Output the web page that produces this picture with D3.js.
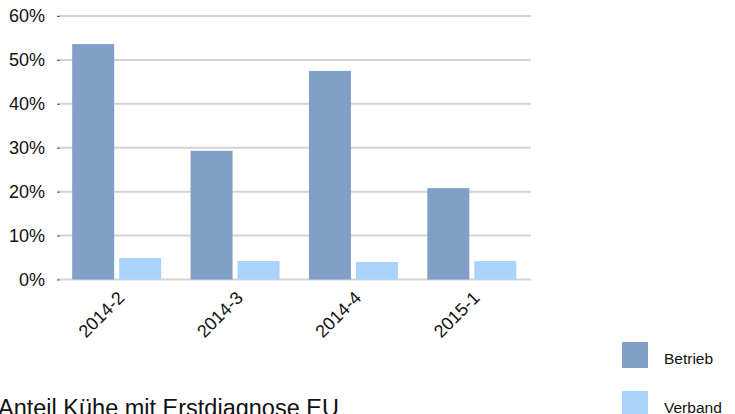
<!DOCTYPE html>
<html>
<head>
<meta charset="utf-8">
<script src="https://cdn.jsdelivr.net/npm/d3@7"></script>
<style>
  body { margin: 0; background: #fff; }
  svg { display: block; font-family: "Liberation Sans", Arial, sans-serif; }
</style>
</head>
<body>
<svg id="chart" width="735" height="414"></svg>
<script>
// Data
const categories = ["2014-2", "2014-3", "2014-4", "2015-1"];
const seriesNames = ["Betrieb", "Verband"];
const betrieb = [0.536, 0.293, 0.475, 0.208];
const verband = [0.049, 0.042, 0.040, 0.042];
const yTicks = [0, 0.1, 0.2, 0.3, 0.4, 0.5, 0.6];
const colors = ["#829fc8", "#aad3fc"];
const title = "Anteil Kühe mit Erstdiagnose EU";

const svg = d3.select("#chart");

// scales
const x0 = d3.scaleBand()
  .domain(categories)
  .range([57.5, 531])
  .paddingInner(0.248)
  .paddingOuter(0.124);

const x1 = d3.scaleBand()
  .domain(seriesNames)
  .range([0, x0.bandwidth()])
  .paddingInner(0.106);

const y = d3.scaleLinear()
  .domain([0, 0.6])
  .range([279.5, 16]);

const color = d3.scaleOrdinal().domain(seriesNames).range(colors);

// gridlines
svg.append("g")
  .selectAll("line")
  .data(yTicks)
  .enter().append("line")
  .attr("x1", 57)
  .attr("x2", 531)
  .attr("y1", d => y(d))
  .attr("y2", d => y(d))
  .attr("stroke", "#d3d3d3")
  .attr("stroke-width", 2);

// y axis
const yAxis = svg.append("g")
  .attr("transform", "translate(60,0)")
  .call(d3.axisLeft(y).tickValues(yTicks).tickFormat(d3.format(".0%")).tickSize(3).tickPadding(12));
yAxis.select(".domain").remove();
yAxis.selectAll(".tick line").attr("stroke", "#666");
yAxis.selectAll("text")
  .attr("font-size", "18px")
  .attr("fill", "#111")
  .attr("font-family", "Liberation Sans, Arial, sans-serif");

// bars
const rows = categories.map((c, i) => ({ cat: c, values: [betrieb[i], verband[i]] }));

const group = svg.append("g")
  .selectAll("g")
  .data(rows)
  .enter().append("g")
  .attr("transform", d => `translate(${x0(d.cat)},0)`);

group.selectAll("rect")
  .data(d => d.values.map((v, j) => ({ key: seriesNames[j], value: v })))
  .enter().append("rect")
  .attr("x", d => x1(d.key))
  .attr("y", d => y(d.value))
  .attr("width", x1.bandwidth())
  .attr("height", d => y(0) - y(d.value))
  .attr("fill", d => color(d.key));

// x labels, rotated
svg.append("g")
  .selectAll("text")
  .data(categories)
  .enter().append("text")
  .attr("transform", d => `translate(${x0(d) + x0.bandwidth() / 2 + 9},${299}) rotate(-45)`)
  .attr("text-anchor", "end")
  .attr("font-size", "18px")
  .attr("fill", "#111")
  .text(d => d);

// title
svg.append("text")
  .attr("x", -2)
  .attr("y", 416)
  .attr("font-size", "23.5px")
  .attr("fill", "#111")
  .text(title);

// legend
const legend = svg.append("g")
  .selectAll("g")
  .data(seriesNames)
  .enter().append("g")
  .attr("transform", (d, i) => `translate(622,${342 + i * 49})`);

legend.append("rect")
  .attr("width", 26)
  .attr("height", 26)
  .attr("fill", d => color(d));

legend.append("text")
  .attr("x", 42)
  .attr("y", 22)
  .attr("font-size", "15.5px")
  .attr("fill", "#111")
  .text(d => d);
</script>
</body>
</html>
